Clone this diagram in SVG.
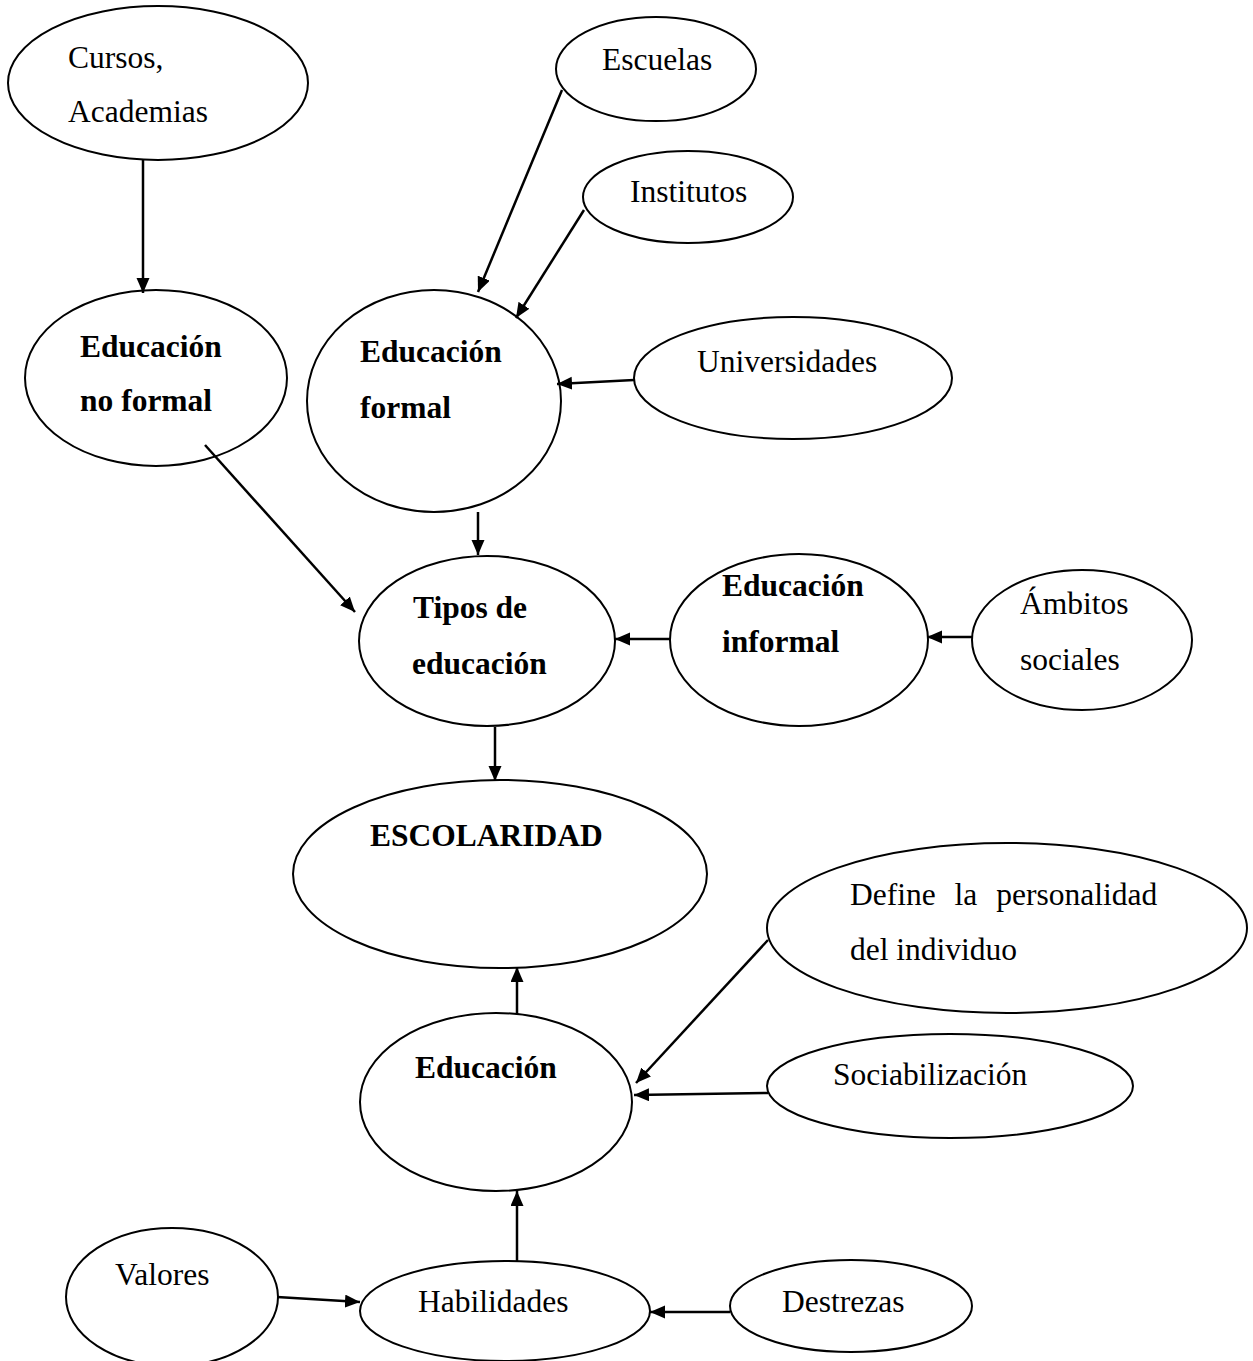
<svg xmlns="http://www.w3.org/2000/svg" width="1253" height="1361" viewBox="0 0 1253 1361">
<style>
.n{fill:#fff;stroke:#000;stroke-width:2}
.t{font-family:"Liberation Serif","Times New Roman",serif;font-size:31.5px;fill:#000}
.b{font-weight:bold}
.c line{stroke:#000;stroke-width:2.5;marker-end:url(#a)}
</style>
<defs>
<marker id="a" markerUnits="userSpaceOnUse" markerWidth="16" markerHeight="14" refX="15" refY="6.5" orient="auto">
<path d="M0,0 L15,6.5 L0,13 z" fill="#000"/>
</marker>
</defs>
<rect width="1253" height="1361" fill="#fff"/>
<g id="cursos"><ellipse class="n" cx="158" cy="83" rx="150" ry="77"/><text class="t" x="68" y="68">Cursos,</text><text class="t" x="68" y="122">Academias</text></g>
<g id="escuelas"><ellipse class="n" cx="656" cy="69" rx="100" ry="52"/><text class="t" x="602" y="70">Escuelas</text></g>
<g id="institutos"><ellipse class="n" cx="688" cy="197" rx="105" ry="46"/><text class="t" x="630" y="202">Institutos</text></g>
<g id="universidades"><ellipse class="n" cx="793" cy="378" rx="159" ry="61"/><text class="t" x="697" y="372">Universidades</text></g>
<g id="noformal"><ellipse class="n" cx="156" cy="378" rx="131" ry="88"/><text class="t b" x="80" y="357">Educación</text><text class="t b" x="80" y="411">no formal</text></g>
<g id="formal"><ellipse class="n" cx="434" cy="401" rx="127" ry="111"/><text class="t b" x="360" y="362">Educación</text><text class="t b" x="360" y="418">formal</text></g>
<g id="tipos"><ellipse class="n" cx="487" cy="641" rx="128" ry="85"/><text class="t b" x="413" y="618">Tipos de</text><text class="t b" x="412" y="674">educación</text></g>
<g id="informal"><ellipse class="n" cx="799" cy="640" rx="129" ry="86"/><text class="t b" x="722" y="596">Educación</text><text class="t b" x="722" y="652">informal</text></g>
<g id="ambitos"><ellipse class="n" cx="1082" cy="640" rx="110" ry="70"/><text class="t" x="1020" y="614">Ámbitos</text><text class="t" x="1020" y="670">sociales</text></g>
<g id="escolaridad"><ellipse class="n" cx="500" cy="874" rx="207" ry="94"/><text class="t b" x="370" y="846">ESCOLARIDAD</text></g>
<g id="define"><ellipse class="n" cx="1007" cy="928" rx="240" ry="85"/><text class="t" x="850" y="905" word-spacing="11">Define la personalidad</text><text class="t" x="850" y="960">del individuo</text></g>
<g id="sociabilizacion"><ellipse class="n" cx="950" cy="1086" rx="183" ry="52"/><text class="t" x="833" y="1085">Sociabilización</text></g>
<g id="educacion"><ellipse class="n" cx="496" cy="1102" rx="136" ry="89"/><text class="t b" x="415" y="1078">Educación</text></g>
<g id="valores"><ellipse class="n" cx="172" cy="1297" rx="106" ry="69"/><text class="t" x="115" y="1285">Valores</text></g>
<g id="habilidades"><ellipse class="n" cx="505" cy="1311" rx="145" ry="50"/><text class="t" x="418" y="1312">Habilidades</text></g>
<g id="destrezas"><ellipse class="n" cx="851" cy="1306" rx="121" ry="46"/><text class="t" x="782" y="1312">Destrezas</text></g>
<g class="c" id="connectors">
<line x1="143" y1="160" x2="143" y2="293"/>
<line x1="562" y1="90" x2="478" y2="292"/>
<line x1="584" y1="210" x2="516" y2="318"/>
<line x1="634" y1="380" x2="557" y2="384"/>
<line x1="478" y1="512" x2="478" y2="555"/>
<line x1="205" y1="445" x2="355" y2="612"/>
<line x1="671" y1="639" x2="615" y2="639"/>
<line x1="972" y1="637" x2="927" y2="637"/>
<line x1="495" y1="727" x2="495" y2="781"/>
<line x1="517" y1="1014" x2="517" y2="967"/>
<line x1="768" y1="940" x2="636" y2="1083"/>
<line x1="768" y1="1093" x2="634" y2="1095"/>
<line x1="517" y1="1261" x2="517" y2="1191"/>
<line x1="277" y1="1297" x2="360" y2="1302"/>
<line x1="730" y1="1312" x2="650" y2="1312"/>
</g>
</svg>
